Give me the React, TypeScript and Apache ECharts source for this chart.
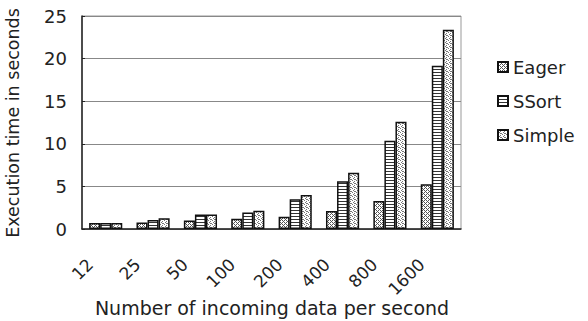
import React, { useEffect, useRef } from "react";
import * as echarts from "echarts";

const categories = ["12", "25", "50", "100", "200", "400", "800", "1600"];
const eager = [0.7, 0.75, 1.0, 1.2, 1.45, 2.1, 3.3, 5.25];
const ssort = [0.7, 1.05, 1.7, 1.95, 3.5, 5.6, 10.35, 19.15];
const simple = [0.7, 1.25, 1.7, 2.15, 4.0, 6.6, 12.6, 23.4];
const seriesNames = ["Eager", "SSort", "Simple"];
const xAxisTitle = "Number of incoming data per second";
const yAxisTitle = "Execution time in seconds";

function makePattern(kind: string): HTMLCanvasElement {
  const c = document.createElement("canvas");
  const s = kind === "ssort" ? 3 : 4;
  c.width = s;
  c.height = s;
  const ctx = c.getContext("2d")!;
  ctx.fillStyle = "#ffffff";
  ctx.fillRect(0, 0, s, s);
  if (kind === "eager") {
    ctx.fillStyle = "#555555";
    for (let x = 0; x < 4; x++)
      for (let y = 0; y < 4; y++)
        if ((x + y) % 4 === 0 || (x - y + 4) % 4 === 2) ctx.fillRect(x, y, 1, 1);
  } else if (kind === "ssort") {
    ctx.fillStyle = "#333333";
    ctx.fillRect(0, 0, 3, 1);
  } else {
    ctx.fillStyle = "#777777";
    const pts = [
      [0, 0],
      [2, 1],
      [1, 2],
      [3, 3],
      [2, 3],
    ];
    pts.forEach(([x, y]) => ctx.fillRect(x, y, 1, 1));
  }
  return c;
}

export default function App() {
  const ref = useRef<HTMLDivElement>(null);
  useEffect(() => {
    document.body.style.margin = "0";
    if (!ref.current) return;
    const chart = echarts.init(ref.current, null, { renderer: "svg" });
    const font = "DejaVu Sans, sans-serif";
    const pats = [makePattern("eager"), makePattern("ssort"), makePattern("simple")];
    const data = [eager, ssort, simple];
    chart.setOption({
      animation: false,
      textStyle: { fontFamily: font },
      grid: {
        left: 82,
        top: 16,
        right: 127,
        bottom: 92,
        containLabel: false,
        outerBoundsMode: "none",
        show: true,
        borderColor: "#999",
        borderWidth: 1,
      },
      legend: {
        orient: "vertical",
        left: 492,
        top: 53,
        itemWidth: 10,
        itemHeight: 10,
        itemGap: 16,
        icon: "rect",
        textStyle: { fontSize: 18, color: "#222", fontFamily: font },
        data: seriesNames,
      },
      graphic: [
        {
          type: "text",
          x: 272,
          y: 308,
          style: {
            text: xAxisTitle,
            fontSize: 19,
            fontFamily: font,
            fill: "#222",
            align: "center",
            verticalAlign: "middle",
          },
        },
        {
          type: "text",
          x: 13,
          y: 123,
          rotation: Math.PI / 2,
          style: {
            text: yAxisTitle,
            fontSize: 17.5,
            fontFamily: font,
            fill: "#222",
            align: "center",
            verticalAlign: "middle",
          },
        },
      ],
      xAxis: {
        type: "category",
        data: categories,
        axisLine: { lineStyle: { color: "#222", width: 1.5 } },
        axisTick: { inside: true, length: 6, lineStyle: { color: "#222" } },
        axisLabel: {
          rotate: 45,
          margin: 17,
          padding: [0, 22, 0, 0],
          fontSize: 17,
          color: "#222",
          fontFamily: font,
        },
      },
      yAxis: {
        type: "value",
        min: 0,
        max: 25,
        interval: 5,
        axisLine: { show: true, lineStyle: { color: "#222", width: 1.5 } },
        axisTick: { show: true, inside: true, length: 3, lineStyle: { color: "#222" } },
        splitLine: { lineStyle: { color: "#888", width: 1 } },
        axisLabel: { fontSize: 18, color: "#222", margin: 15, fontFamily: font },
      },
      series: seriesNames.map((n, i) => ({
        name: n,
        type: "bar",
        data: data[i],
        barGap: "0%",
        barCategoryGap: "30%",
        itemStyle: {
          color: { image: pats[i], repeat: "repeat" },
          borderColor: "#111",
          borderWidth: 1.5,
        },
      })),
    });
    return () => chart.dispose();
  }, []);
  return <div ref={ref} style={{ width: 588, height: 321 }} />;
}
